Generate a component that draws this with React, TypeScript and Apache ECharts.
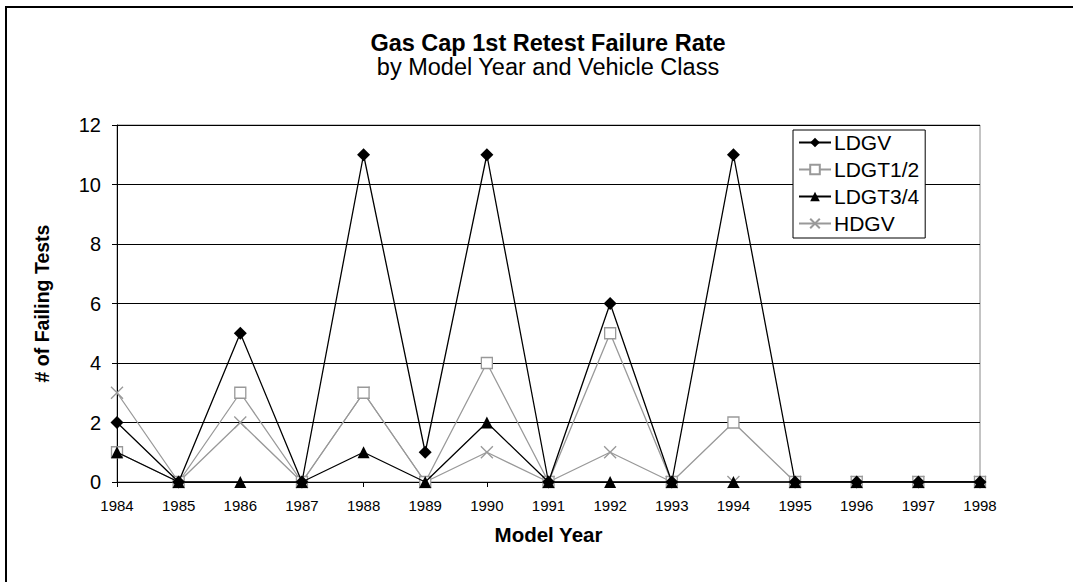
import React, { useEffect, useRef } from "react";
import * as echarts from "echarts";

const years = ["1984","1985","1986","1987","1988","1989","1990","1991","1992","1993","1994","1995","1996","1997","1998"];
const ldgv = [2,0,5,0,11,1,11,0,6,0,11,0,0,0,0];
const ldgt12 = [1,0,3,0,3,0,4,0,5,0,2,0,0,0,0];
const ldgt34 = [1,0,0,0,1,0,2,0,0,0,0,0,0,0,0];
const hdgv = [3,0,2,0,3,0,1,0,1,0,0,0,0,0,0];
const yTicks = [0, 2, 4, 6, 8, 10, 12];

const FONT = "'Liberation Sans', Arial, sans-serif";
const GRAY = "#999999";

export default function App() {
  const ref = useRef<HTMLDivElement>(null);
  useEffect(() => {
    if (!ref.current) return;
    const chart = echarts.init(ref.current, undefined, { renderer: "svg" });
    const xSym = "path://M0,0L10,10M10,0L0,10";
    chart.setOption({
      animation: false,
      backgroundColor: "#fff",
      textStyle: { fontFamily: FONT },
      title: [
        {
          text: "Gas Cap 1st Retest Failure Rate",
          left: 548, top: 31, textAlign: "center", padding: 0,
          textStyle: { fontFamily: FONT, fontSize: 23.5, lineHeight: 23.5, fontWeight: "bold", color: "#000" },
        },
        {
          text: "by Model Year and Vehicle Class",
          left: 548, top: 55.5, textAlign: "center", padding: 0,
          textStyle: { fontFamily: FONT, fontSize: 23.5, lineHeight: 23.5, fontWeight: "normal", color: "#000" },
        },
      ],
      graphic: [
        {
          type: "line",
          shape: { x1: 5, y1: 7, x2: 1080, y2: 7 },
          style: { stroke: "#000", lineWidth: 2 },
          silent: true, z: 100,
        },
        {
          type: "line",
          shape: { x1: 6, y1: 6, x2: 6, y2: 590 },
          style: { stroke: "#000", lineWidth: 2 },
          silent: true, z: 100,
        },
      ],
      legend: {
        orient: "vertical",
        left: 793, top: 130,
        itemWidth: 32, itemHeight: 12, itemGap: 6,
        padding: [2, 6, 4, 5],
        borderColor: "#000", borderWidth: 1,
        backgroundColor: "#fff",
        textStyle: { fontFamily: FONT, fontSize: 21, color: "#000", padding: [0, 0, 0, -2] },
        data: ["LDGV", "LDGT1/2", "LDGT3/4", "HDGV"],
      },
      grid: {
        left: 117, right: 93, top: 125, bottom: 100,
        show: true, borderColor: "#888", borderWidth: 1,
      },
      xAxis: {
        type: "category",
        data: years,
        boundaryGap: false,
        name: "Model Year",
        nameLocation: "middle",
        nameGap: 42,
        nameTextStyle: { fontFamily: FONT, fontSize: 20.5, fontWeight: "bold", color: "#000" },
        axisLine: { lineStyle: { color: "#000", width: 1 } },
        axisTick: { show: true, length: 5, lineStyle: { color: "#000" } },
        axisLabel: { fontFamily: FONT, fontSize: 15, color: "#000", margin: 16 },
        splitLine: { show: false },
      },
      yAxis: {
        type: "value",
        min: yTicks[0], max: yTicks[yTicks.length - 1], interval: 2,
        name: "# of Failing Tests",
        nameLocation: "middle",
        nameGap: 65,
        nameTextStyle: { fontFamily: FONT, fontSize: 19.5, fontWeight: "bold", color: "#000" },
        axisLine: { show: true, lineStyle: { color: "#000", width: 1 } },
        axisTick: { show: true, length: 5, lineStyle: { color: "#000" } },
        axisLabel: { fontFamily: FONT, fontSize: 20, color: "#000", margin: 16 },
        splitLine: { show: true, lineStyle: { color: "#000", width: 1 } },
      },
      series: [
        {
          name: "LDGV", type: "line", data: ldgv,
          symbol: "diamond", symbolSize: 13,
          lineStyle: { color: "#000", width: 1.3 },
          itemStyle: { color: "#000" },
          z: 5,
        },
        {
          name: "LDGT1/2", type: "line", data: ldgt12,
          symbol: "rect", symbolSize: 11,
          lineStyle: { color: GRAY, width: 1.3 },
          itemStyle: { color: "#fff", borderColor: GRAY, borderWidth: 1.3 },
          z: 3,
        },
        {
          name: "LDGT3/4", type: "line", data: ldgt34,
          symbol: "triangle", symbolSize: 12,
          lineStyle: { color: "#000", width: 1.3 },
          itemStyle: { color: "#000" },
          z: 4,
        },
        {
          name: "HDGV", type: "line", data: hdgv,
          symbol: xSym, symbolSize: 12,
          lineStyle: { color: GRAY, width: 1.3 },
          itemStyle: { color: "none", borderColor: GRAY, borderWidth: 1.3 },
          z: 2,
        },
      ],
    });
    return () => chart.dispose();
  }, []);
  return (
    <div
      ref={ref}
      style={{ position: "fixed", left: 0, top: 0, width: 1073, height: 582 }}
    />
  );
}
